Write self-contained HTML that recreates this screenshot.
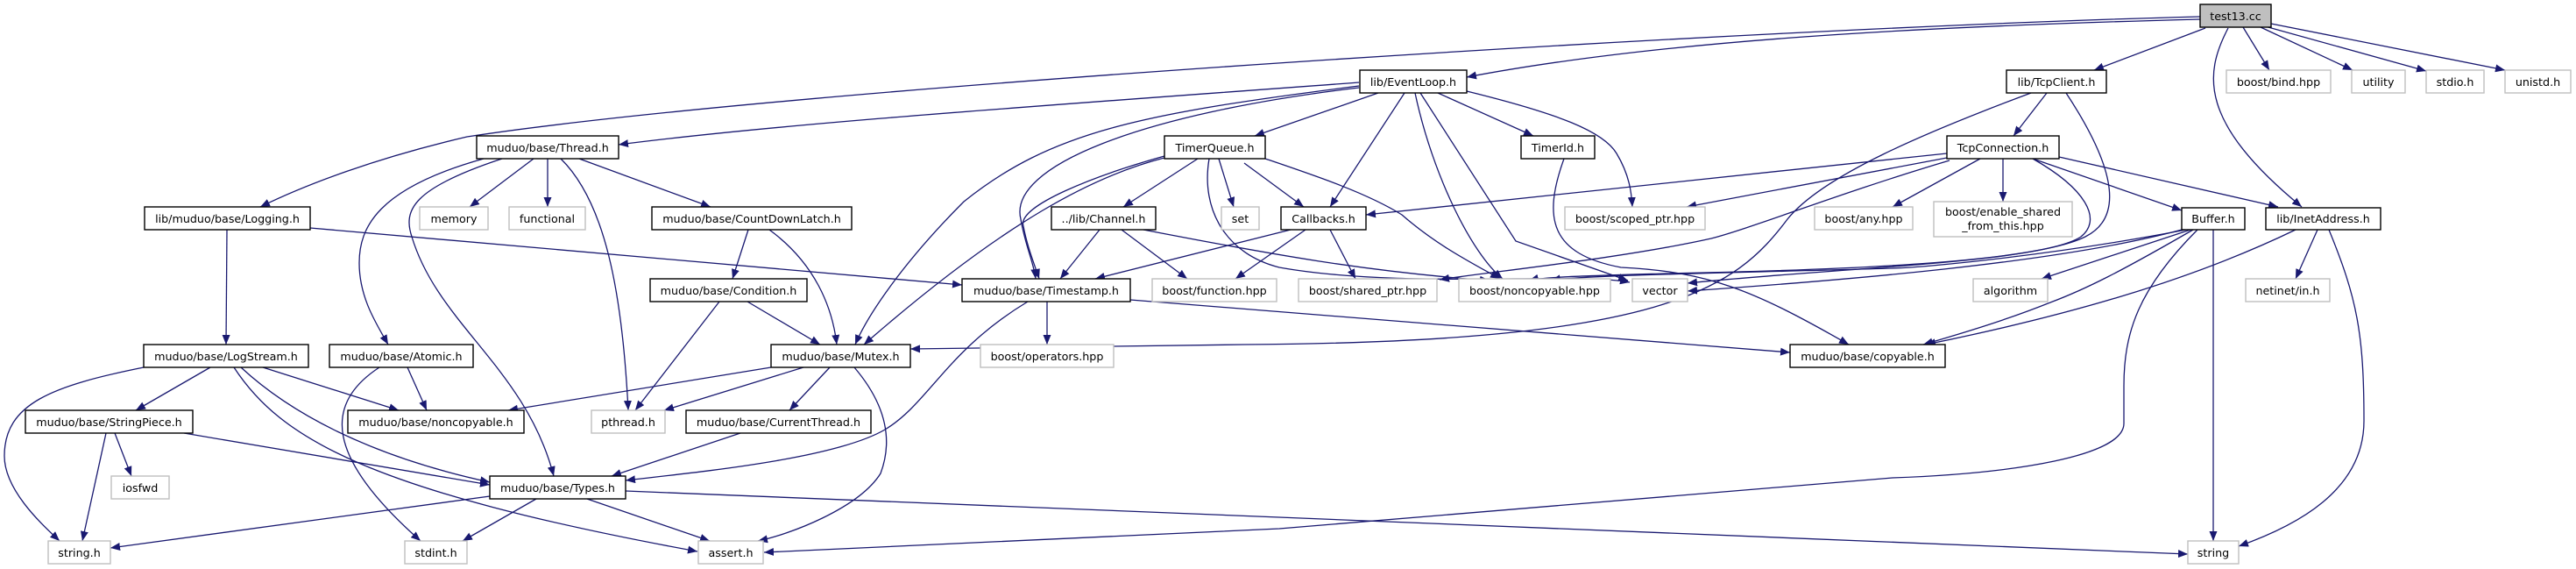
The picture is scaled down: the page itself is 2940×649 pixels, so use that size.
<!DOCTYPE html>
<html><head><meta charset="utf-8"><style>
html,body{margin:0;padding:0;background:#fff;}
svg{display:block;}
text{font-family:"DejaVu Sans","Liberation Sans",sans-serif;font-size:12.7px;fill:#000;text-anchor:middle;}
.n{fill:#fff;stroke:#000;stroke-width:1.4;}
.g{fill:#fff;stroke:#bfbfbf;stroke-width:1.4;}
.e{fill:none;stroke:#191970;stroke-width:1.3;marker-end:url(#a);}
</style></head><body>
<svg width="2940" height="649" viewBox="0 0 2940 649" xmlns="http://www.w3.org/2000/svg">
<defs><marker id="a" markerUnits="userSpaceOnUse" markerWidth="12" markerHeight="10" refX="11" refY="4.5" orient="auto"><path d="M0,0 L11,4.5 L0,9 z" fill="#191970"/></marker></defs>

<!-- edges -->
<path class="e" d="M2511,22 C2200,30 1900,45 1674,88"/>
<path class="e" d="M2511,19 C2000,32 900,100 533,156 C430,180 350,210 297,236"/>
<path class="e" d="M2517,32 L2390,80"/>
<path class="e" d="M2543,32 C2515,85 2510,140 2627,236"/>
<path class="e" d="M2560,31 L2590,80"/>
<path class="e" d="M2580,31 L2685,80"/>
<path class="e" d="M2585,30 L2769,81"/>
<path class="e" d="M2592,27 L2859,80"/>

<path class="e" d="M1551,94 C1200,120 900,140 706,165"/>
<path class="e" d="M1573,106 L1432,155"/>
<path class="e" d="M1603,106 L1518,236"/>
<path class="e" d="M1641,106 L1750,155"/>
<path class="e" d="M1674,104 C1780,130 1830,150 1845,175 C1860,200 1862,220 1863,236"/>
<path class="e" d="M1615,106 C1635,200 1680,290 1715,318"/>
<path class="e" d="M1621,106 L1730,275 L1858,320"/>
<path class="e" d="M1551,100 C1300,130 1150,190 1165,250 C1170,280 1180,300 1182,318"/>
<path class="e" d="M1551,98 C1300,130 1200,150 1100,230 C1030,300 990,360 976,393"/>

<path class="e" d="M1329,180 C1250,200 1150,250 986,393"/>
<path class="e" d="M1329,178 C1250,200 1160,235 1168,258 C1172,280 1180,300 1186,318"/>
<path class="e" d="M1367,181 L1282,236"/>
<path class="e" d="M1391,181 L1408,236"/>
<path class="e" d="M1420,186 L1488,236"/>
<path class="e" d="M1444,181 C1500,200 1560,220 1600,245 C1640,280 1680,300 1712,318"/>
<path class="e" d="M1380,181 C1370,240 1400,290 1460,305 C1600,330 1800,310 1860,322"/>

<path class="e" d="M1255,262 L1210,318"/>
<path class="e" d="M1280,262 L1355,318"/>
<path class="e" d="M1305,262 C1450,290 1560,310 1700,320"/>
<path class="e" d="M1473,262 L1250,318"/>
<path class="e" d="M1518,262 L1547,318"/>
<path class="e" d="M1490,262 L1410,318"/>
<path class="e" d="M1785,181 C1760,250 1770,290 1850,305 C1950,310 2000,330 2110,393"/>

<path class="e" d="M552,181 C430,215 410,260 410,300 C410,340 430,370 443,393"/>
<path class="e" d="M573,181 C470,215 460,240 470,270 C500,370 600,420 632,543"/>
<path class="e" d="M609,181 L536,236"/>
<path class="e" d="M625,181 L625,236"/>
<path class="e" d="M640,181 C690,230 710,330 717,468"/>
<path class="e" d="M661,181 L811,236"/>

<path class="e" d="M259,262 L258,393"/>
<path class="e" d="M354,260 L1098,325"/>
<path class="e" d="M854,262 L836,318"/>
<path class="e" d="M878,262 C930,300 950,350 955,393"/>
<path class="e" d="M853,344 L936,393"/>
<path class="e" d="M821,344 L725,468"/>
<path class="e" d="M880,419 L580,468"/>
<path class="e" d="M917,419 L758,468"/>
<path class="e" d="M947,419 L901,468"/>
<path class="e" d="M975,419 C1010,460 1020,500 1005,540 C980,580 900,610 865,617"/>
<path class="e" d="M845,494 L698,543"/>
<path class="e" d="M1195,344 L1195,393"/>
<path class="e" d="M1290,342 L2043,402"/>
<path class="e" d="M1173,344 C1080,400 1060,460 1010,490 C950,525 780,540 714,548"/>

<path class="e" d="M240,419 L155,468"/>
<path class="e" d="M300,419 L455,468"/>
<path class="e" d="M275,419 C330,470 420,520 559,550"/>
<path class="e" d="M267,419 C320,500 420,560 796,629"/>
<path class="e" d="M164,419 C60,440 5,460 5,520 C5,560 50,600 68,617"/>
<path class="e" d="M465,419 L487,468"/>
<path class="e" d="M433,419 C370,460 370,520 480,617"/>
<path class="e" d="M131,494 L150,543"/>
<path class="e" d="M121,494 L94,617"/>
<path class="e" d="M210,494 L559,553"/>
<path class="e" d="M559,566 L126,625"/>
<path class="e" d="M612,569 L528,617"/>
<path class="e" d="M670,569 L810,617"/>
<path class="e" d="M714,560 L1460,590 L2497,632"/>

<path class="e" d="M2508,262 C2440,330 2424,380 2424,440 L2424,483 C2424,520 2300,540 2160,545 L1460,603 L872,630"/>
<path class="e" d="M2500,262 L2330,318"/>
<path class="e" d="M2526,262 L2526,617"/>
<path class="e" d="M2503,262 C2420,310 2380,330 2340,345 C2290,365 2240,380 2195,393"/>
<path class="e" d="M2490,262 C2350,300 2100,320 1926,332"/>
<path class="e" d="M2495,262 C2350,290 2200,305 2160,306 C1950,312 1800,314 1770,320"/>
<path class="e" d="M2645,262 L2620,318"/>
<path class="e" d="M2658,262 C2690,340 2698,380 2698,480 C2698,560 2620,600 2555,623"/>
<path class="e" d="M2620,262 C2500,320 2360,360 2198,393"/>

<path class="e" d="M2336,106 L2298,155"/>
<path class="e" d="M2318,106 C2200,150 2080,200 2040,250 C1980,330 1900,390 1420,393 L1039,398"/>
<path class="e" d="M2358,106 C2420,200 2420,250 2380,270 C2320,300 2100,308 1900,312 C1800,315 1760,316 1745,320"/>
<path class="e" d="M2222,175 L1559,245"/>
<path class="e" d="M2222,180 L1925,236"/>
<path class="e" d="M2260,181 L2160,236"/>
<path class="e" d="M2286,181 L2286,230"/>
<path class="e" d="M2320,181 L2490,240"/>
<path class="e" d="M2350,179 L2600,236"/>
<path class="e" d="M2225,183 C2100,220 2000,260 1953,272 C1850,295 1700,310 1643,319"/>
<path class="e" d="M2320,181 C2380,215 2400,250 2375,270 C2330,300 2100,305 1926,323"/>

<!-- nodes -->
<rect x="2511" y="5" width="81" height="26" fill="#bfbfbf" stroke="#000" stroke-width="1.4"/><text x="2551.5" y="23">test13.cc</text>
<rect class="n" x="1552" y="80" width="122" height="26"/><text x="1613" y="98">lib/EventLoop.h</text>
<rect class="n" x="2290" y="80" width="114" height="26"/><text x="2347" y="98">lib/TcpClient.h</text>
<rect class="g" x="2541" y="80" width="119" height="26"/><text x="2600.5" y="98">boost/bind.hpp</text>
<rect class="g" x="2684" y="80" width="61" height="26"/><text x="2714.5" y="98">utility</text>
<rect class="g" x="2769" y="80" width="66" height="26"/><text x="2802" y="98">stdio.h</text>
<rect class="g" x="2859" y="80" width="75" height="26"/><text x="2896.5" y="98">unistd.h</text>

<rect class="n" x="544" y="155" width="162" height="26"/><text x="625" y="173">muduo/base/Thread.h</text>
<rect class="n" x="1329" y="155" width="115" height="26"/><text x="1386.5" y="173">TimerQueue.h</text>
<rect class="n" x="1736" y="155" width="84" height="26"/><text x="1778" y="173">TimerId.h</text>
<rect class="n" x="2222" y="155" width="128" height="26"/><text x="2286" y="173">TcpConnection.h</text>

<rect class="n" x="165" y="236" width="189" height="26"/><text x="259.5" y="254">lib/muduo/base/Logging.h</text>
<rect class="g" x="479" y="236" width="78" height="26"/><text x="518" y="254">memory</text>
<rect class="g" x="581" y="236" width="87" height="26"/><text x="624.5" y="254">functional</text>
<rect class="n" x="744" y="236" width="228" height="26"/><text x="858" y="254">muduo/base/CountDownLatch.h</text>
<rect class="n" x="1200" y="236" width="119" height="26"/><text x="1259.5" y="254">../lib/Channel.h</text>
<rect class="g" x="1394" y="236" width="43" height="26"/><text x="1415.5" y="254">set</text>
<rect class="n" x="1462" y="236" width="97" height="26"/><text x="1510.5" y="254">Callbacks.h</text>
<rect class="g" x="1786" y="236" width="160" height="26"/><text x="1866" y="254">boost/scoped_ptr.hpp</text>
<rect class="g" x="2071" y="236" width="112" height="26"/><text x="2127" y="254">boost/any.hpp</text>
<rect class="g" x="2207" y="230" width="158" height="40"/><text x="2286" y="246">boost/enable_shared</text><text x="2286" y="262">_from_this.hpp</text>
<rect class="n" x="2490" y="237" width="72" height="25"/><text x="2526" y="254">Buffer.h</text>
<rect class="n" x="2586" y="237" width="131" height="25"/><text x="2651.5" y="254">lib/InetAddress.h</text>

<rect class="n" x="742" y="318" width="179" height="26"/><text x="831.5" y="336">muduo/base/Condition.h</text>
<rect class="n" x="1098" y="318" width="192" height="26"/><text x="1194" y="336">muduo/base/Timestamp.h</text>
<rect class="g" x="1315" y="318" width="142" height="26"/><text x="1386" y="336">boost/function.hpp</text>
<rect class="g" x="1482" y="318" width="158" height="26"/><text x="1561" y="336">boost/shared_ptr.hpp</text>
<rect class="g" x="1665" y="318" width="173" height="26"/><text x="1751.5" y="336">boost/noncopyable.hpp</text>
<rect class="g" x="1863" y="318" width="63" height="26"/><text x="1894.5" y="336">vector</text>
<rect class="g" x="2252" y="318" width="85" height="26"/><text x="2294.5" y="336">algorithm</text>
<rect class="g" x="2563" y="318" width="96" height="26"/><text x="2611" y="336">netinet/in.h</text>

<rect class="n" x="164" y="393" width="188" height="26"/><text x="258" y="411">muduo/base/LogStream.h</text>
<rect class="n" x="376" y="393" width="164" height="26"/><text x="458" y="411">muduo/base/Atomic.h</text>
<rect class="n" x="880" y="393" width="159" height="26"/><text x="959.5" y="411">muduo/base/Mutex.h</text>
<rect class="g" x="1119" y="393" width="152" height="26"/><text x="1195" y="411">boost/operators.hpp</text>
<rect class="n" x="2043" y="393" width="177" height="26"/><text x="2131.5" y="411">muduo/base/copyable.h</text>

<rect class="n" x="29" y="468" width="191" height="26"/><text x="124.5" y="486">muduo/base/StringPiece.h</text>
<rect class="n" x="397" y="468" width="201" height="26"/><text x="497.5" y="486">muduo/base/noncopyable.h</text>
<rect class="g" x="675" y="468" width="84" height="26"/><text x="717" y="486">pthread.h</text>
<rect class="n" x="783" y="468" width="211" height="26"/><text x="888.5" y="486">muduo/base/CurrentThread.h</text>

<rect class="g" x="127" y="543" width="66" height="26"/><text x="160" y="561">iosfwd</text>
<rect class="n" x="559" y="543" width="155" height="26"/><text x="636.5" y="561">muduo/base/Types.h</text>

<rect class="g" x="55" y="617" width="71" height="26"/><text x="90.5" y="635">string.h</text>
<rect class="g" x="462" y="617" width="71" height="26"/><text x="497.5" y="635">stdint.h</text>
<rect class="g" x="797" y="617" width="74" height="26"/><text x="834" y="635">assert.h</text>
<rect class="g" x="2497" y="617" width="58" height="26"/><text x="2526" y="635">string</text>
</svg>
</body></html>
